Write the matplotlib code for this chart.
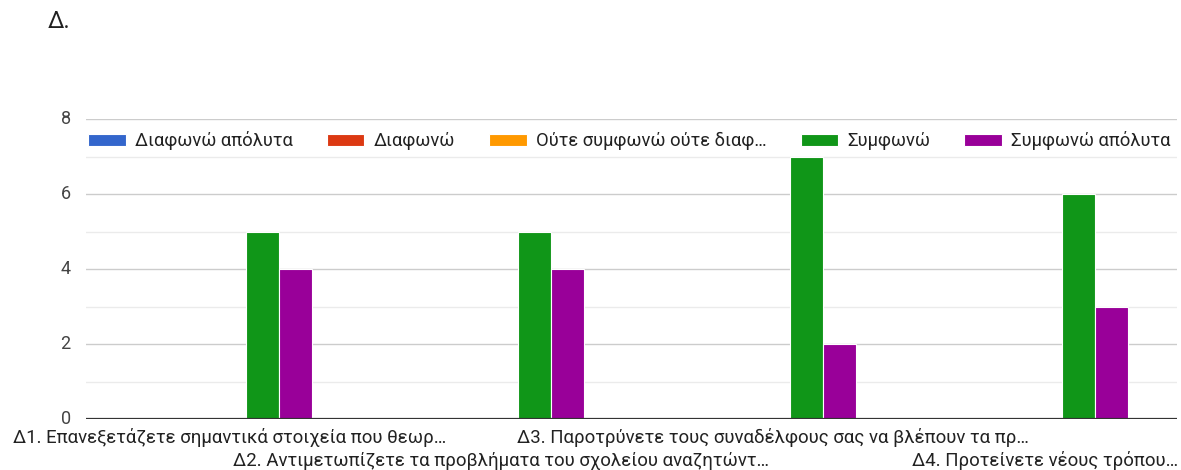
import numpy as np
import matplotlib.pyplot as plt
from matplotlib.ticker import MultipleLocator

plt.rcParams['font.family'] = ['Roboto', 'DejaVu Sans']

# Ερωτήσεις ενότητας Δ (περικομμένες όπως στη φόρμα)
questions = [
    "Δ1. Επανεξετάζετε σημαντικά στοιχεία που θεωρ…",
    "Δ2. Αντιμετωπίζετε τα προβλήματα του σχολείου αναζητώντ…",
    "Δ3. Παροτρύνετε τους συναδέλφους σας να βλέπουν τα πρ…",
    "Δ4. Προτείνετε νέους τρόπου…",
]
answers = ["Διαφωνώ απόλυτα", "Διαφωνώ", "Ούτε συμφωνώ ούτε διαφ…",
           "Συμφωνώ", "Συμφωνώ απόλυτα"]
colors = ["#3366cc", "#dc3912", "#ff9900", "#109618", "#990099"]

# πλήθος απαντήσεων ανά ερώτηση
disagree_full = [0, 0, 0, 0]
disagree = [0, 0, 0, 0]
neutral = [0, 0, 0, 0]
agree = [5, 5, 7, 6]
agree_full = [4, 4, 2, 3]
counts = [disagree_full, disagree, neutral, agree, agree_full]

W, H = 1181, 470
fig = plt.figure(figsize=(W / 100, H / 100), dpi=100)
ax = fig.add_axes([86 / W, (H - 419) / H, (1177 - 86) / W, 300 / H])

x = np.arange(len(questions))
bw = 0.1213
for i, (vals, name, c) in enumerate(zip(counts, answers, colors)):
    ax.bar(x + (i - 2) * bw, vals, bw, color=c, label=name,
           edgecolor="white", linewidth=0.8, zorder=3)

ax.set_xlim(-0.527, 3.484)
ax.set_ylim(0, 8)
ax.yaxis.set_major_locator(MultipleLocator(2))
ax.yaxis.set_minor_locator(MultipleLocator(1))
ax.grid(axis="y", which="major", color="#cccccc", linewidth=1, zorder=0)
ax.grid(axis="y", which="minor", color="#ebebeb", linewidth=1, zorder=0)
ax.axhline(0, color="#333333", linewidth=1.6, zorder=4)
for s in ax.spines.values():
    s.set_visible(False)

ax.tick_params(axis="y", which="both", length=0, pad=11,
               labelsize=13, labelcolor="#444444")
for lbl in ax.get_yticklabels():
    lbl.set_verticalalignment("center")

# ετικέτες κατηγοριών σε δύο σειρές για να μην επικαλύπτονται
ax.set_xticks(x)
ax.set_xticklabels([])
ax.tick_params(axis="x", length=0)
for k, q in enumerate(questions):
    ax.annotate(q, xy=(x[k], 0), xycoords=ax.get_xaxis_transform(),
                xytext=(0, -13 if k % 2 == 0 else -30), textcoords="offset points",
                ha="center", va="center", fontsize=13.4, color="#222222")

leg = ax.legend(loc="center left", bbox_to_anchor=(0.002, 0.927), ncol=5,
                frameon=False, fontsize=13.2, labelcolor="#222222",
                handlelength=2.05, handleheight=0.62, handletextpad=0.5,
                columnspacing=1.86, borderaxespad=0, borderpad=0)
leg.set_zorder(5)

fig.text(48 / W, 1 - 21 / H, "Δ.", fontsize=17, color="#212121",
         ha="left", va="center")

fig.savefig("out.png", dpi=100, facecolor="white")
